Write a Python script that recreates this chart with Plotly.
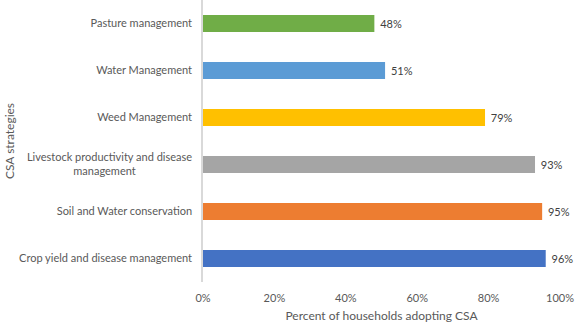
import plotly.graph_objects as go

# data, bottom to top as drawn
strategies = [
    "Crop yield and disease management",
    "Soil and Water conservation",
    "Livestock productivity and disease<br>management" + "\u00a0" * 20,
    "Weed Management",
    "Water Management",
    "Pasture management",
]
adoption = [0.96, 0.95, 0.93, 0.79, 0.51, 0.48]
colors = ["#4472C4", "#ED7D31", "#A5A5A5", "#FFC000", "#5B9BD5", "#70AD47"]

font = "Lato, 'Open Sans', sans-serif"
grey = "#595959"

fig = go.Figure()
fig.add_trace(go.Bar(
    x=adoption, y=strategies, orientation="h",
    marker=dict(color=colors, line=dict(width=0)),
    text=["\u00a0" + f"{v:.0%}" for v in adoption],
    textposition="outside",
    textfont=dict(family=font, size=11, color="#404040"),
    cliponaxis=False,
    width=0.36,
    hoverinfo="skip",
))

fig.update_layout(
    width=575, height=323,
    margin=dict(l=203, r=15, t=0, b=41),
    paper_bgcolor="white", plot_bgcolor="white",
    showlegend=False,
    font=dict(family=font, size=11, color=grey),
    xaxis=dict(
        range=[0, 1], tickvals=[0, 0.2, 0.4, 0.6, 0.8, 1.0], tickformat=".0%",
        showgrid=False, zeroline=False, showline=False,
        ticks="outside", ticklen=6, tickcolor="rgba(0,0,0,0)",
        tickfont=dict(size=11, color=grey),
        title=dict(text="Percent of households adopting CSA",
                   font=dict(size=12, color=grey), standoff=8),
    ),
    yaxis=dict(
        range=[-0.5, 5.5], showgrid=False, zeroline=False,
        showline=True, linecolor="#D9D9D9", linewidth=1.5,
        ticks="outside", ticklen=7, tickcolor="rgba(0,0,0,0)",
        tickfont=dict(size=11, color=grey),
        title=dict(text="CSA strategies", font=dict(size=12, color=grey), standoff=2),
    ),
)

# drop the browser's default page margin so the figure sits at the corner
fig.write_html("out.html", config={"displayModeBar": False},
               post_script="document.body.style.margin='0';")
